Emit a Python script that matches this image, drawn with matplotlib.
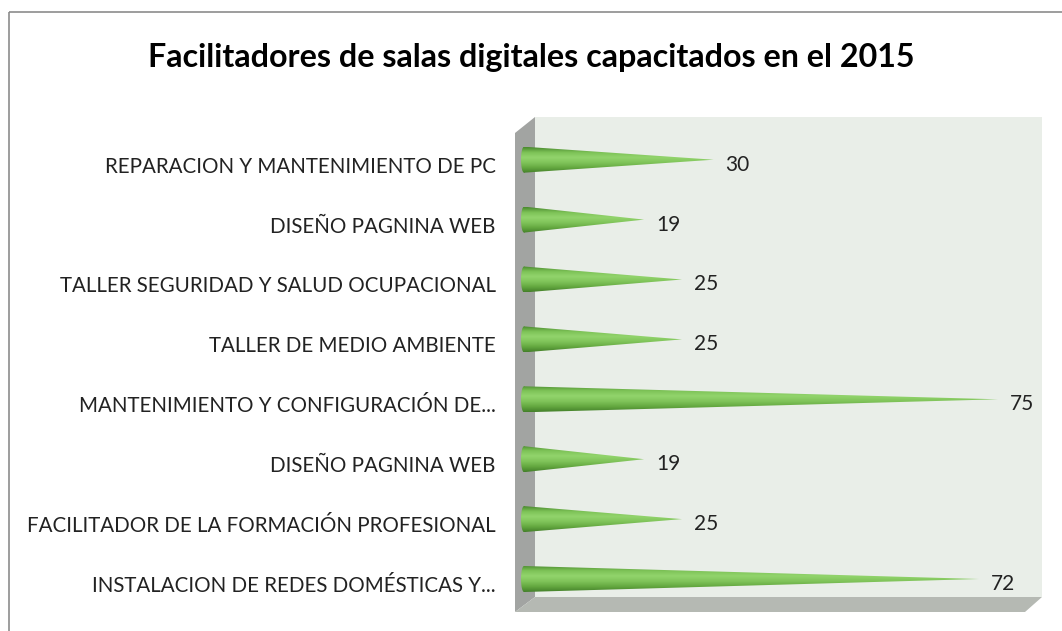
import matplotlib
matplotlib.use("Agg")
import matplotlib.pyplot as plt
import numpy as np
from matplotlib.patches import Polygon, Ellipse, Rectangle
from matplotlib.colors import LinearSegmentedColormap

# ── data (top to bottom as in the chart) ──
categories = [
    "REPARACION Y MANTENIMIENTO DE PC",
    "DISEÑO PAGNINA WEB",
    "TALLER SEGURIDAD Y SALUD OCUPACIONAL",
    "TALLER DE MEDIO AMBIENTE",
    "MANTENIMIENTO Y CONFIGURACIÓN DE...",
    "DISEÑO PAGNINA WEB",
    "FACILITADOR DE LA FORMACIÓN PROFESIONAL",
    "INSTALACION DE REDES DOMÉSTICAS Y...",
]
values = [30, 19, 25, 25, 75, 19, 25, 72]
title = "Facilitadores de salas digitales capacitados en el 2015"

W, H = 1062, 631
fig = plt.figure(figsize=(W / 100, H / 100), dpi=100)
fig.patch.set_facecolor("white")

# ── background: outer frame + 3D walls (pixel coords) ──
bg = fig.add_axes([0, 0, 1, 1])
bg.set_xlim(0, W)
bg.set_ylim(H, 0)
bg.axis("off")
bg.add_patch(Rectangle((9, 12), 1100, 700, fill=False, ec="#8c8c8c", lw=1.2))
bg.add_patch(Polygon([(535, 117), (1042, 117), (1042, 597), (535, 597)],
                     closed=True, fc="#e9eee8", ec="none"))
bg.add_patch(Polygon([(515, 133), (535, 117), (535, 597), (515, 612)],
                     closed=True, fc="#a2a4a2", ec="none"))
bg.add_patch(Polygon([(515, 612), (535, 597), (1042, 597), (1025, 612)],
                     closed=True, fc="#b5b9b3", ec="none"))

# ── main axes: value 0 at px 524, 6.32 px per unit ──
x0_px, scale = 524, 6.32
left_px, right_px, top_px, bot_px = 515, 1042, 116, 612
ax = fig.add_axes([left_px / W, 1 - bot_px / H,
                   (right_px - left_px) / W, (bot_px - top_px) / H])
ax.patch.set_alpha(0)
step = 59.9
for s in ax.spines.values():
    s.set_visible(False)
ax.set_xticks([])

n = len(categories)
ypos = np.arange(n)[::-1]   # first category at top
ax.set_yticks(ypos)
ax.set_yticklabels(categories, fontsize=14.8, family="Lato", color="#222222")
ax.tick_params(axis="y", length=0, pad=14)

# shading from top edge (first) to bottom edge (last)
cone_cmap = LinearSegmentedColormap.from_list(
    "cone", ["#4a8a2e", "#7dc257", "#92d46c", "#80c45a", "#64a840", "#44802a"])
grad = np.linspace(0, 1, 64).reshape(-1, 1)

half_h = 13 / step
px_unit = 1 / scale
for y, v in zip(ypos, values):
    yc = y + 5 / step
    # cone body with vertical shading
    poly = Polygon([(0, yc - half_h), (v, yc), (0, yc + half_h)],
                   closed=True, fc="none", ec="none")
    ax.add_patch(poly)
    im = ax.imshow(grad[::-1], cmap=cone_cmap, aspect="auto", origin="lower",
                   extent=(-1, v, yc - half_h, yc + half_h), zorder=2,
                   interpolation="bilinear")
    im.set_clip_path(poly)
    # rounded base
    base = Ellipse((0, yc), 6 * px_unit, 2 * half_h, fc="none", ec="none")
    ax.add_patch(base)
    im2 = ax.imshow(grad[::-1], cmap=cone_cmap, aspect="auto", origin="lower",
                    extent=(-1, 1, yc - half_h, yc + half_h), zorder=2,
                    interpolation="bilinear")
    im2.set_clip_path(base)
    # value label
    ax.text(v + 12 * px_unit, y, str(v), va="center", ha="left",
            fontsize=15, family="Lato", color="#222222")

ax.set_xlim((left_px - x0_px) / scale, (right_px - x0_px) / scale)
ax.set_ylim(-(bot_px - 584) / step, (584 - top_px) / step)

fig.text(531 / W, 1 - 58 / H, title, ha="center", va="center",
         fontsize=23.2, fontweight="bold", family="Lato", color="black")

fig.savefig("out.png", dpi=100)
